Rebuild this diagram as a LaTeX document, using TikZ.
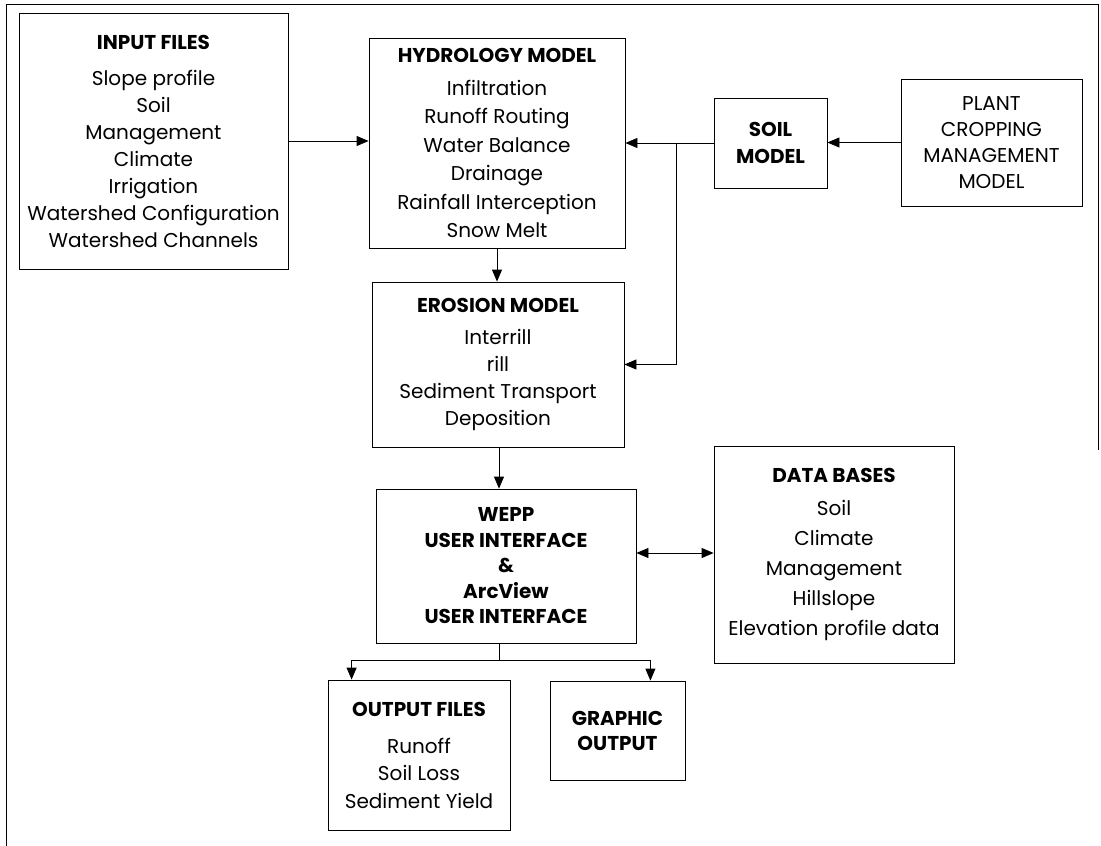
\documentclass[tikz,border=0pt]{standalone}
\usepackage{fontspec}
\setmainfont{Poppins}
\usepackage{tikz}
\usetikzlibrary{arrows.meta}

\tikzset{
	box/.style={draw,line width=0.8pt,inner sep=0pt,align=center,font=\fontsize{20}{27}\selectfont},
	arr/.style={line width=0.8pt,-{Triangle[length=12pt,width=10pt]}},
	dblarr/.style={line width=0.8pt,{Triangle[length=12pt,width=10pt]}-{Triangle[length=12pt,width=10pt]}}
}
\newcommand{\hd}[1]{\textbf{#1}}

\begin{document}
\begin{tikzpicture}[x=1pt,y=-1pt]
	\useasboundingbox (0,0) rectangle (1101,846);
	\draw[line width=0.8pt] (6,846) -- (6,4) -- (1098,4) -- (1098,450);
	\node[box,minimum width=269pt,minimum height=256pt] (input) at (153.5,141)
		{\hd{INPUT FILES}\\[9pt] Slope profile\\ Soil\\ Management\\ Climate\\ Irrigation\\ Watershed Configuration\\ Watershed Channels};
	\node[box,minimum width=256pt,minimum height=210pt,font=\fontsize{20}{28.5}\selectfont] (hydro) at (497,143)
		{\hd{HYDROLOGY MODEL}\\[4pt] Infiltration\\ Runoff Routing\\ Water Balance\\ Drainage\\ Rainfall Interception\\ Snow Melt};
	\node[box,minimum width=252pt,minimum height=165pt] (eros) at (498,364.5)
		{\hd{EROSION MODEL}\\[5pt] Interrill\\ rill\\ Sediment Transport\\ Deposition};
	\node[box,minimum width=113pt,minimum height=90pt] (soil) at (770.5,143)
		{\hd{SOIL}\\ \hd{MODEL}};
	\node[box,minimum width=181pt,minimum height=127pt,font=\fontsize{20}{26}\selectfont] (plant) at (991.5,142.5)
		{PLANT\\ CROPPING\\ MANAGEMENT\\ MODEL};
	\node[box,minimum width=260pt,minimum height=154pt,font=\fontsize{20}{25.5}\selectfont] (wepp) at (506,566)
		{\hd{WEPP}\\ \hd{USER INTERFACE}\\ \hd{\&}\\ \hd{ArcView}\\ \hd{USER INTERFACE}};
	\node[box,minimum width=240pt,minimum height=217pt,font=\fontsize{20}{30}\selectfont] (data) at (834,554.5)
		{\hd{DATA BASES}\\[3pt] Soil\\ Climate\\ Management\\ Hillslope\\ Elevation profile data};
	\node[box,minimum width=182pt,minimum height=150pt,font=\fontsize{20}{27.5}\selectfont] (outf) at (419,755)
		{\hd{OUTPUT FILES}\\[9.5pt] Runoff\\ Soil Loss\\ Sediment Yield};
	\node[box,minimum width=135pt,minimum height=99pt,font=\fontsize{20}{25}\selectfont] (graph) at (617.5,730.5)
		{\hd{GRAPHIC}\\ \hd{OUTPUT}};
	\coordinate (jn) at (676,143);
	\coordinate (split) at (499,660);
	\draw[arr] (input.east) -- (input.east -| hydro.west);
	\draw[arr] (plant.west) -- (plant.west -| soil.east);
	\draw[arr] (soil.west) -- (soil.west -| hydro.east);
	\draw[arr] (jn) |- (eros.east);
	\draw[arr] (hydro.south) -- (hydro.south |- eros.north);
	\draw[arr] (split |- eros.south) -- (split |- wepp.north);
	\draw[dblarr] (wepp.east |- 0,553) -- (data.west |- 0,553);
	\draw[line width=0.8pt] (split |- wepp.south) -- (split);
	\draw[arr] (split) -| ([xshift=24pt]outf.north west);
	\draw[arr] (split) -| ([xshift=-35pt]graph.north east);
\end{tikzpicture}
\end{document}
